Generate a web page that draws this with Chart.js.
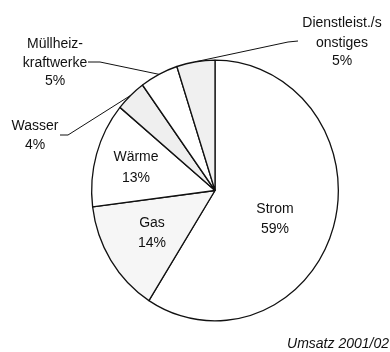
<!DOCTYPE html>
<html>
<head>
<meta charset="utf-8">
<script src="https://cdn.jsdelivr.net/npm/chart.js"></script>
<style>
  html, body { margin: 0; padding: 0; background: #fff; }
  #wrap { width: 390px; height: 352px; position: relative; }
</style>
</head>
<body>
<div id="wrap"><canvas id="myChart" width="390" height="352"></canvas></div>
<script>
// Umsatzanteile in Prozent
var categories = ["Strom", "Gas", "Wärme", "Wasser", "Müllheizkraftwerke", "Dienstleist./sonstiges"];
var shares = [59, 14, 13, 4, 5, 5];
var fills = ['#ffffff', '#f6f6f6', '#ffffff', '#efefef', '#ffffff', '#f0f0f0'];

// label text lines and baselines for each slice
var labelLayout = [
    { lines: ["Strom", "59%"], x: 275, y: [213, 233] },
    { lines: ["Gas", "14%"], x: 152, y: [227, 247] },
    { lines: ["Wärme", "13%"], x: 136, y: [161, 182] },
    { lines: ["Wasser", "4%"], x: 35, y: [130, 149], leader: [[68, 135], [60, 135]] },
    { lines: ["Müllheiz-", "kraftwerke", "5%"], x: 55, y: [48, 67, 85], leader: [[100, 62], [88, 62]] },
    { lines: ["Dienstleist./s", "onstiges", "5%"], x: 342, y: [27, 47, 65], leader: [[288, 42], [298, 41]] }
];

// the pie is slightly taller than wide
var stretchY = 1.057;

var squash = {
    id: 'squash',
    beforeDatasetsDraw: function (chart) {
        var arc = chart.getDatasetMeta(0).data[0];
        var ctx = chart.ctx;
        ctx.save();
        ctx.translate(arc.x, arc.y);
        ctx.scale(1, stretchY);
        ctx.translate(-arc.x, -arc.y);
    },
    afterDatasetsDraw: function (chart) {
        chart.ctx.restore();
    }
};

var sliceLabels = {
    id: 'sliceLabels',
    afterDraw: function (chart) {
        var ctx = chart.ctx;
        var arcs = chart.getDatasetMeta(0).data;
        ctx.save();
        ctx.fillStyle = '#111';
        ctx.strokeStyle = '#111';
        ctx.lineWidth = 1;
        ctx.font = '14px "Liberation Sans", Arial, sans-serif';
        ctx.textAlign = 'center';
        ctx.textBaseline = 'alphabetic';
        labelLayout.forEach(function (lab, i) {
            var arc = arcs[i];
            if (lab.leader) {
                var mid = (arc.startAngle + arc.endAngle) / 2;
                var ax = arc.x + Math.cos(mid) * arc.outerRadius;
                var ay = arc.y + Math.sin(mid) * arc.outerRadius * stretchY;
                ctx.beginPath();
                ctx.moveTo(ax, ay);
                lab.leader.forEach(function (p) { ctx.lineTo(p[0], p[1]); });
                ctx.stroke();
            }
            lab.lines.forEach(function (t, k) {
                ctx.fillText(t, lab.x, lab.y[k]);
            });
        });
        ctx.font = 'italic 14px "Liberation Sans", Arial, sans-serif';
        ctx.textAlign = 'right';
        ctx.fillText('Umsatz 2001/02', 389, 348);
        ctx.restore();
    }
};

var ctx = document.getElementById("myChart").getContext('2d');
var myChart = new Chart(ctx, {
    type: 'pie',
    data: {
        labels: categories,
        datasets: [{
            data: shares,
            backgroundColor: fills,
            borderColor: '#111',
            borderWidth: 1.3,
            borderAlign: 'center'
        }]
    },
    options: {
        responsive: false,
        maintainAspectRatio: false,
        animation: false,
        layout: {
            padding: { left: 91, right: 51, top: 66, bottom: 37 }
        },
        plugins: {
            legend: { display: false },
            tooltip: { enabled: false }
        }
    },
    plugins: [squash, sliceLabels]
});
</script>
</body>
</html>
